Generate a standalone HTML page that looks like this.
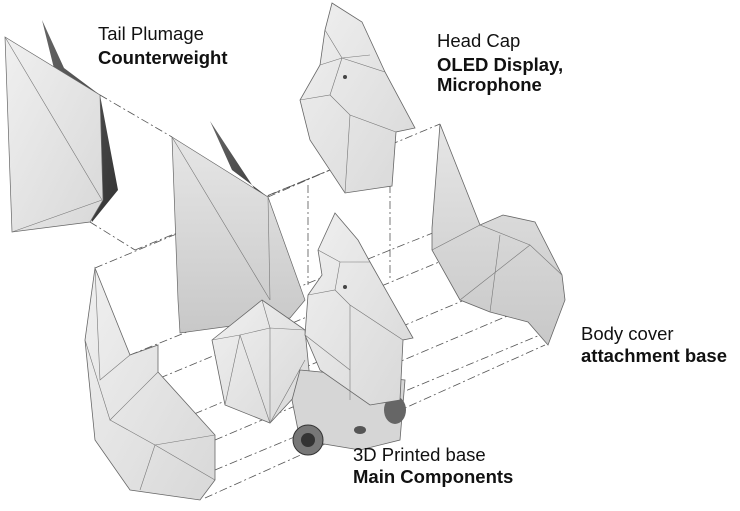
<!DOCTYPE html>
<html><head><meta charset="utf-8"><style>
html,body{margin:0;padding:0;background:#fff;width:740px;height:511px;overflow:hidden}
svg{position:absolute;left:0;top:0}
.t{font-family:"Liberation Sans",sans-serif;font-size:18.5px;fill:#111}
.b{font-weight:bold}
</style></head><body>
<svg width="740" height="511" viewBox="0 0 740 511">
<defs>
<linearGradient id="g1" x1="0" y1="0" x2="1" y2="1"><stop offset="0" stop-color="#f0f0f0"/><stop offset="1" stop-color="#d8d8d8"/></linearGradient>
<linearGradient id="g2" x1="0" y1="0" x2="0" y2="1"><stop offset="0" stop-color="#e6e6e6"/><stop offset="1" stop-color="#c8c8c8"/></linearGradient>
<linearGradient id="gd" x1="0" y1="0" x2="1" y2="1"><stop offset="0" stop-color="#666"/><stop offset="1" stop-color="#333"/></linearGradient>
</defs>
<g stroke="#555" stroke-width="0.8" fill="none" stroke-dasharray="8 3 2 3">
<line x1="100" y1="95" x2="172" y2="137"/>
<line x1="90" y1="222" x2="135" y2="250"/>
<line x1="135" y1="250" x2="330" y2="170"/>
<line x1="95" y1="268" x2="440" y2="124"/>
<line x1="268" y1="197" x2="330" y2="170"/>
<line x1="308" y1="185" x2="308" y2="285"/>
<line x1="390" y1="185" x2="390" y2="280"/>
<line x1="130" y1="355" x2="440" y2="230"/>
<line x1="160" y1="378" x2="480" y2="245"/>
<line x1="180" y1="420" x2="500" y2="285"/>
<line x1="215" y1="440" x2="545" y2="300"/>
<line x1="215" y1="470" x2="540" y2="335"/>
<line x1="205" y1="498" x2="545" y2="345"/>
</g>
<!-- tail 1 -->
<polygon points="42,20 64,68 100,95 118,190 92,222" fill="url(#gd)"/>
<polygon points="5,37 100,95 103,200 90,222 12,232" fill="url(#g1)" stroke="#666" stroke-width="0.7"/>
<g stroke="#777" stroke-width="0.6"><line x1="5" y1="37" x2="102" y2="200"/><line x1="12" y1="232" x2="102" y2="200"/></g>
<!-- tail 2 -->
<polygon points="210,121 232,170 268,197 275,220" fill="url(#gd)"/>
<polygon points="172,137 268,197 305,300 290,318 180,333 178,300" fill="url(#g2)" stroke="#666" stroke-width="0.7"/>
<g stroke="#777" stroke-width="0.6"><line x1="172" y1="137" x2="270" y2="300"/><line x1="268" y1="197" x2="270" y2="300"/></g>
<!-- head cap -->
<polygon points="332,3 362,22 385,72 415,128 396,132 392,186 345,193 310,140 300,100 320,65 325,30" fill="url(#g1)" stroke="#666" stroke-width="0.8"/>
<g stroke="#777" stroke-width="0.6" fill="none"><polyline points="325,30 342,58 385,72"/><polyline points="320,65 342,58 370,55"/><polyline points="300,100 330,95 350,115 396,132"/><line x1="350" y1="115" x2="345" y2="193"/><line x1="330" y1="95" x2="342" y2="58"/></g>
<circle cx="345" cy="77" r="2" fill="#444"/>
<!-- body cover -->
<polygon points="440,124 480,225 503,215 535,222 562,275 565,300 548,345 528,322 490,312 460,300 432,250 432,228" fill="url(#g2)" stroke="#666" stroke-width="0.8"/>
<g stroke="#777" stroke-width="0.6" fill="none"><polyline points="432,250 480,225 530,245 562,275"/><line x1="460" y1="300" x2="530" y2="245"/><line x1="490" y1="312" x2="500" y2="235"/></g>
<!-- left body shell -->
<polygon points="95,268 130,355 158,345 158,372 215,435 215,480 200,500 130,490 95,440 85,340" fill="url(#g1)" stroke="#666" stroke-width="0.8"/>
<g stroke="#777" stroke-width="0.6" fill="none"><polyline points="95,268 100,380 130,355"/><polyline points="85,340 110,420 158,372"/><polyline points="110,420 155,445 215,480"/><line x1="155" y1="445" x2="140" y2="490"/><line x1="155" y1="445" x2="215" y2="435"/></g>
<!-- icosahedron -->
<polygon points="212,340 262,300 305,330 310,380 270,423 225,405" fill="url(#g1)" stroke="#666" stroke-width="0.8"/>
<g stroke="#777" stroke-width="0.6" fill="none"><polyline points="212,340 240,335 270,328 305,330"/><line x1="262" y1="300" x2="270" y2="328"/><polyline points="240,335 225,405"/><polyline points="270,328 270,423"/><polyline points="240,335 270,423 305,360"/></g>
<!-- main body base -->
<polygon points="300,370 405,380 400,440 360,450 300,440 292,400" fill="#d6d6d6" stroke="#666" stroke-width="0.8"/>
<ellipse cx="360" cy="430" rx="6" ry="4" fill="#555"/>
<circle cx="308" cy="440" r="15" fill="#777" stroke="#333"/><circle cx="308" cy="440" r="7" fill="#333"/>
<ellipse cx="395" cy="410" rx="11" ry="14" fill="#666"/>
<!-- main head -->
<polygon points="335,213 358,240 370,262 413,338 403,340 400,400 370,405 320,370 305,335 308,295 322,275 318,250" fill="url(#g1)" stroke="#666" stroke-width="0.8"/>
<g stroke="#777" stroke-width="0.6" fill="none"><polyline points="318,250 340,262 370,262"/><polyline points="308,295 335,290 350,305 403,340"/><line x1="350" y1="305" x2="350" y2="400"/><line x1="335" y1="290" x2="340" y2="262"/><line x1="305" y1="335" x2="350" y2="370"/></g>
<circle cx="345" cy="287" r="2" fill="#444"/>
<!-- text -->
<text class="t" x="98" y="40">Tail Plumage</text>
<text class="t b" x="98" y="64">Counterweight</text>
<text class="t" x="437" y="47">Head Cap</text>
<text class="t b" x="437" y="71">OLED Display,</text>
<text class="t b" x="437" y="91">Microphone</text>
<text class="t" x="581" y="340">Body cover</text>
<text class="t b" x="581" y="362">attachment base</text>
<text class="t" x="353" y="461">3D Printed base</text>
<text class="t b" x="353" y="483">Main Components</text>
</svg>
</body></html>
